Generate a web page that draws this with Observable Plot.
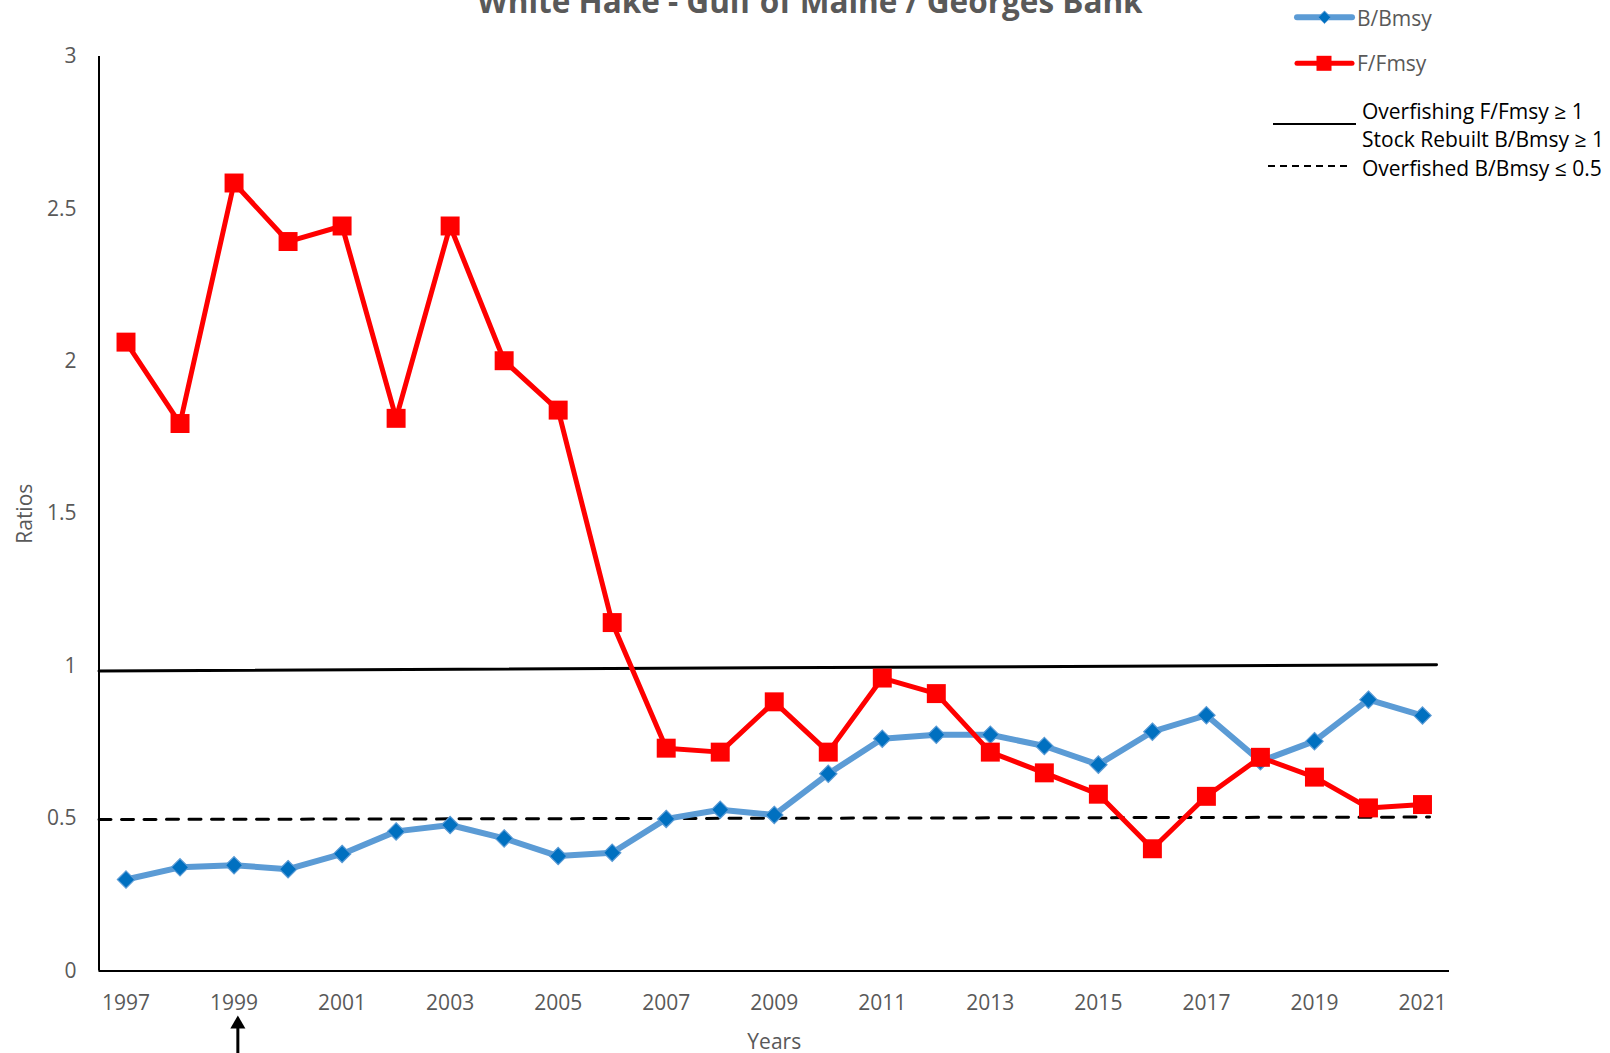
<!DOCTYPE html>
<html><head><meta charset="utf-8">
<script src="https://cdn.jsdelivr.net/npm/d3@7"></script>
<script src="https://cdn.jsdelivr.net/npm/@observablehq/plot@0.6"></script>
<style>
body{margin:0;background:#fff;overflow:hidden}
#wrap{position:relative;width:1610px;height:1053px}
#overlay{position:absolute;left:0;top:0;pointer-events:none}
</style>
</head><body><div id="wrap"></div>
<script>
const titleText = "White Hake - Gulf of Maine / Georges Bank";
const years = [1997,1998,1999,2000,2001,2002,2003,2004,2005,2006,2007,2008,2009,2010,2011,2012,2013,2014,2015,2016,2017,2018,2019,2020,2021];
const bBmsy = [0.30,0.34,0.347,0.334,0.384,0.458,0.479,0.435,0.377,0.388,0.499,0.529,0.512,0.647,0.762,0.775,0.775,0.738,0.677,0.785,0.839,0.688,0.754,0.890,0.838];
const fFmsy = [2.063,1.796,2.585,2.393,2.444,1.813,2.444,2.002,1.840,1.143,0.731,0.718,0.883,0.718,0.961,0.910,0.718,0.650,0.580,0.401,0.573,0.701,0.636,0.535,0.546];
const xTicks = [1997,1999,2001,2003,2005,2007,2009,2011,2013,2015,2017,2019,2021];
const yTicks = [0,0.5,1,1.5,2,2.5,3];
const xDomain = [1996.5, 2021.5];
const yDomain = [0, 3];
// reference lines (as drawn in the source, slightly sloped)
const overfishingX = [1996.5, 2021.26];
const overfishingY = [0.984, 1.005];
const overfishedX = [1996.5, 2021.13];
const overfishedY = [0.497, 0.505];
const arrowYear = 1999;
const arrowY = [-0.179, -0.3];
const seriesNames = ["B/Bmsy", "F/Fmsy"];
const refNames = ["Overfishing F/Fmsy \u2265 1", "Stock Rebuilt B/Bmsy \u2265 1", "Overfished B/Bmsy \u2264 0.5"];

const rows = years.map((yr, i) => ({year: yr, b: bBmsy[i], f: fFmsy[i]}));
const overfishingRows = overfishingX.map((x, i) => ({x, y: overfishingY[i]}));
const overfishedRows = overfishedX.map((x, i) => ({x, y: overfishedY[i]}));

const chart = Plot.plot({
  width: 1610, height: 1053,
  marginLeft: 98.5, marginRight: 161, marginTop: 56, marginBottom: 82.5,
  x: {domain: xDomain},
  y: {domain: yDomain},
  style: {fontFamily: "'Open Sans', sans-serif", fontSize: "21px", color: "#595959", background: "white", overflow: "visible"},
  marks: [
    Plot.line(overfishedRows, {x: "x", y: "y", stroke: "#000", strokeWidth: 3, strokeDasharray: "12,10.5"}),
    Plot.line(overfishingRows, {x: "x", y: "y", stroke: "#000", strokeWidth: 3}),
    Plot.ruleY([yDomain[0]], {stroke: "#000", strokeWidth: 2}),
    Plot.ruleX([xDomain[0]], {y1: yDomain[0], y2: yDomain[1], stroke: "#000", strokeWidth: 2}),
    Plot.axisY({ticks: yTicks, tickFormat: d => String(d), tickSize: 0, tickPadding: 22.5, label: null}),
    Plot.axisX({ticks: xTicks, tickFormat: d => String(d), tickSize: 0, tickPadding: 24, label: null}),
    Plot.line(rows, {x: "year", y: "b", stroke: "#5B9BD5", strokeWidth: 6}),
    Plot.dot(rows, {x: "year", y: "b", symbol: "diamond2", r: 7.8, fill: "#0070C0", stroke: "#5B9BD5", strokeWidth: 1.2}),
    Plot.line(rows, {x: "year", y: "f", stroke: "#FF0000", strokeWidth: 5}),
    Plot.dot(rows, {x: "year", y: "f", symbol: "square", r: 10.7, fill: "#FF0000"}),
    Plot.ruleX([arrowYear], {y1: arrowY[0], y2: arrowY[1], dx: 3.8, stroke: "#000", strokeWidth: 3}),
    Plot.dot([arrowYear], {x: d => d, frameAnchor: "bottom", dy: 53.2, dx: 3.8, symbol: "triangle", r: 5.6, fill: "#000", stroke: "none"}),
    Plot.text(["Years"], {frameAnchor: "bottom", dy: 78, text: d => d, fill: "#595959", fontSize: 21}),
    Plot.text(["Ratios"], {frameAnchor: "left", dx: -73.5, dy: 30, rotate: -90, text: d => d, fill: "#595959", fontSize: 21})
  ]
});
document.getElementById("wrap").appendChild(chart);

// title and legend overlay
const svg = d3.select("#wrap").append("svg").attr("id", "overlay")
  .attr("width", 1610).attr("height", 1053)
  .style("font-family", "'Open Sans', sans-serif");
svg.append("text").attr("x", 810).attr("y", 13).attr("text-anchor", "middle")
  .attr("font-weight", "bold").attr("font-size", 31.5).attr("fill", "#595959").text(titleText);

// B/Bmsy
svg.append("line").attr("x1", 1297).attr("x2", 1352).attr("y1", 17.3).attr("y2", 17.3)
  .attr("stroke", "#5B9BD5").attr("stroke-width", 6).attr("stroke-linecap", "round");
svg.append("path").attr("d", "M1324.5,11L1330.8,17.3L1324.5,23.6L1318.2,17.3Z")
  .attr("fill", "#0070C0").attr("stroke", "#5B9BD5").attr("stroke-width", 1);
svg.append("text").attr("x", 1357).attr("y", 26).attr("font-size", 21).attr("fill", "#595959").text(seriesNames[0]);
// F/Fmsy
svg.append("line").attr("x1", 1297).attr("x2", 1352).attr("y1", 63.3).attr("y2", 63.3)
  .attr("stroke", "#FF0000").attr("stroke-width", 5).attr("stroke-linecap", "round");
svg.append("rect").attr("x", 1316.5).attr("y", 55.8).attr("width", 15).attr("height", 15).attr("fill", "#FF0000");
svg.append("text").attr("x", 1357).attr("y", 70.7).attr("font-size", 21).attr("fill", "#595959").text(seriesNames[1]);
// reference lines legend
svg.append("line").attr("x1", 1273).attr("x2", 1356).attr("y1", 124).attr("y2", 124)
  .attr("stroke", "#000").attr("stroke-width", 2);
svg.append("line").attr("x1", 1268).attr("x2", 1350).attr("y1", 166).attr("y2", 166)
  .attr("stroke", "#000").attr("stroke-width", 2).attr("stroke-dasharray", "7,5");
[119, 147.3, 175.7].forEach((yy, i) => {
  svg.append("text").attr("x", 1362).attr("y", yy).attr("font-size", 21).attr("fill", "#000").text(refNames[i]);
});
</script>
</body></html>
